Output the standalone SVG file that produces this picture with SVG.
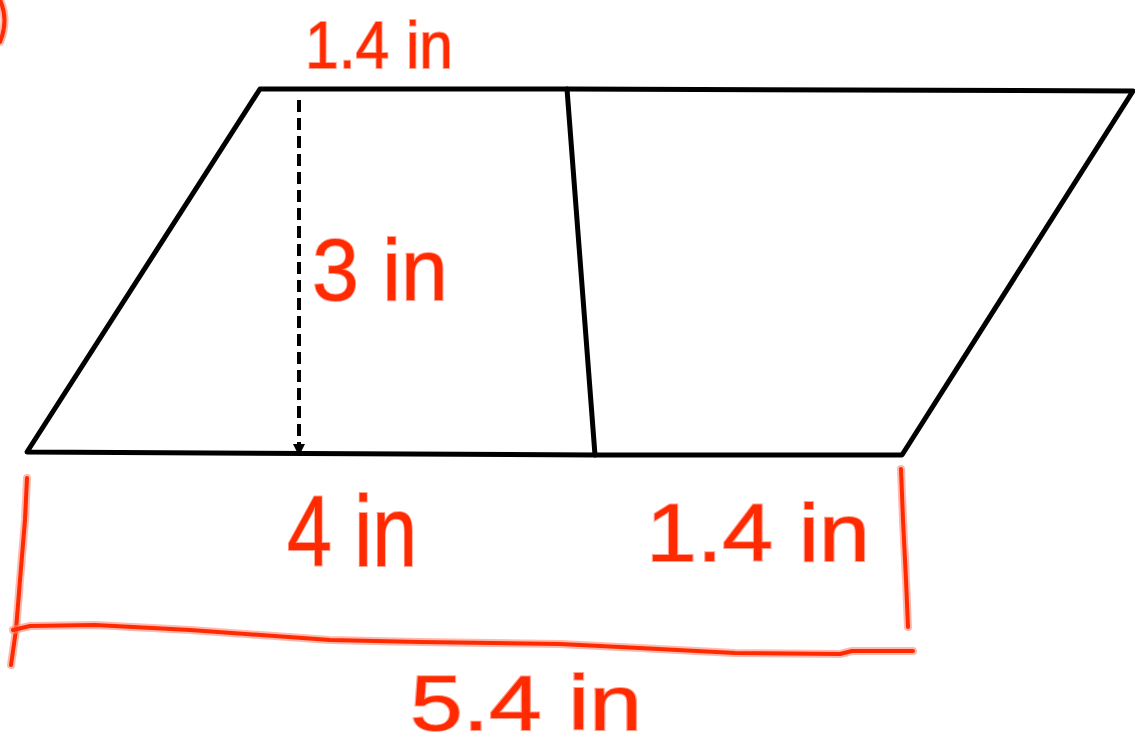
<svg xmlns="http://www.w3.org/2000/svg" width="1135" height="748" viewBox="0 0 1135 748">
  <style>
    .edge { fill: none; stroke: #000; stroke-width: 5; stroke-linejoin: round; stroke-linecap: round; }
    .ink { fill: none; stroke: #ff2a00; stroke-width: 4; stroke-linecap: round; stroke-linejoin: round; }
    .halo { fill: none; stroke: #ff8a78; stroke-width: 8; stroke-linecap: round; stroke-linejoin: round; opacity: 0.6; }
    .lbl { font-family: "Liberation Sans", Arial, sans-serif; fill: #ff2a00; stroke: #ffa090; stroke-width: 2; paint-order: stroke; }
  </style>
  <rect width="1135" height="748" fill="#fff"/>

  <g id="shape">
    <path class="edge" d="M260,89 L567,89 L1133,91 L902,455 L595,455 L27,452 Z"/>
    <path class="edge" d="M567,89 L595,455"/>
  </g>

  <g id="connectors">
    <line x1="299" y1="100" x2="299" y2="444" stroke="#000" stroke-width="4" stroke-dasharray="12,6"/>
    <path d="M293,444 L305,444 L299,456 Z" fill="#000"/>
    <g id="brackets">
      <path class="halo" d="M0,0 Q9,20 0,42"/>
      <path class="ink" d="M0,0 Q9,20 0,42"/>
      <path class="halo" d="M27,478 L25,520 L20,580 L16,630 L11,665"/>
      <path class="ink" d="M27,478 L25,520 L20,580 L16,630 L11,665"/>
      <path class="halo" d="M13,630 L30,626 L95,625 L190,630 L330,640 L420,642 L560,644 L620,647 L735,653 L840,654 L852,651 L913,651"/>
      <path class="ink" d="M13,630 L30,626 L95,625 L190,630 L330,640 L420,642 L560,644 L620,647 L735,653 L840,654 L852,651 L913,651"/>
      <path class="halo" d="M901,469 L903,520 L906,580 L908,627"/>
      <path class="ink" d="M901,469 L903,520 L906,580 L908,627"/>
    </g>
  </g>

  <g id="label-top"><text class="lbl" x="305" y="68" font-size="66" textLength="148" lengthAdjust="spacingAndGlyphs">1.4 in</text></g>
  <g id="label-height"><text class="lbl" x="312" y="300" font-size="88" textLength="136" lengthAdjust="spacingAndGlyphs">3 in</text></g>
  <g id="label-base"><text class="lbl" x="287" y="566" font-size="100" textLength="130" lengthAdjust="spacingAndGlyphs">4 in</text></g>
  <g id="label-right"><text class="lbl" x="646" y="561" font-size="82" textLength="224" lengthAdjust="spacingAndGlyphs">1.4 in</text></g>
  <g id="label-total"><text class="lbl" x="410" y="730" font-size="78" textLength="232" lengthAdjust="spacingAndGlyphs">5.4 in</text></g>
</svg>
